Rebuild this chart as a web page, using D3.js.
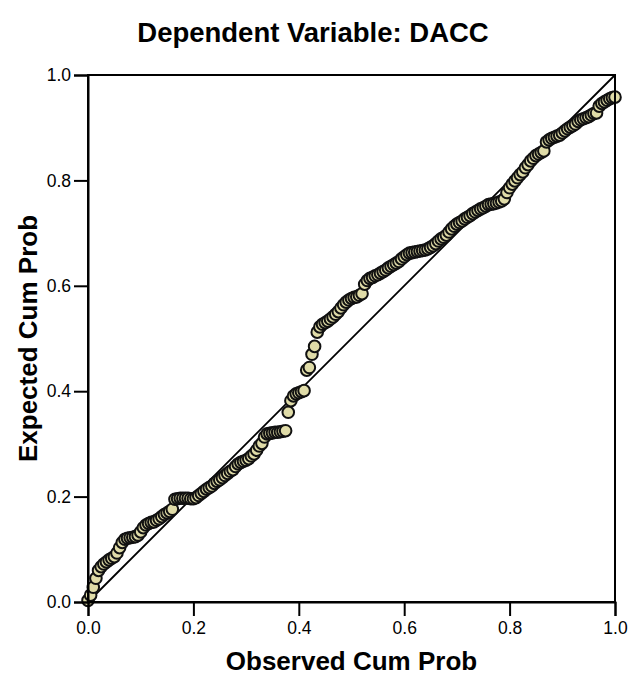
<!DOCTYPE html>
<html>
<head>
<meta charset="utf-8">
<script src="https://cdn.jsdelivr.net/npm/d3@7"></script>
<style>
  body { margin: 0; background: #fff; }
  text { font-family: "Liberation Sans", Arial, sans-serif; }
</style>
</head>
<body>
<div id="chart"></div>
<script>
// P-P plot: observed vs expected cumulative probability
const observed = [
  0.000, 0.005, 0.010, 0.015, 0.020, 0.025, 0.030, 0.035, 0.040, 0.045,
  0.050, 0.055, 0.060, 0.065, 0.070, 0.075, 0.080, 0.085, 0.090, 0.095,
  0.100, 0.105, 0.110, 0.115, 0.120, 0.125, 0.130, 0.135, 0.140, 0.145,
  0.150, 0.155, 0.160, 0.165, 0.170, 0.175, 0.180, 0.185, 0.190, 0.195,
  0.200, 0.205, 0.210, 0.215, 0.220, 0.225, 0.230, 0.235, 0.240, 0.245,
  0.250, 0.255, 0.260, 0.265, 0.270, 0.275, 0.280, 0.285, 0.290, 0.295,
  0.300, 0.305, 0.310, 0.315, 0.320, 0.325, 0.330, 0.335, 0.340, 0.345,
  0.350, 0.355, 0.360, 0.365, 0.370, 0.375, 0.380, 0.385, 0.390, 0.395,
  0.400, 0.405, 0.410, 0.415, 0.420, 0.425, 0.430, 0.435, 0.440, 0.445,
  0.450, 0.455, 0.460, 0.465, 0.470, 0.475, 0.480, 0.485, 0.490, 0.495,
  0.500, 0.505, 0.510, 0.515, 0.520, 0.525, 0.530, 0.535, 0.540, 0.545,
  0.550, 0.555, 0.560, 0.565, 0.570, 0.575, 0.580, 0.585, 0.590, 0.595,
  0.600, 0.605, 0.610, 0.615, 0.620, 0.625, 0.630, 0.635, 0.640, 0.645,
  0.650, 0.655, 0.660, 0.665, 0.670, 0.675, 0.680, 0.685, 0.690, 0.695,
  0.700, 0.705, 0.710, 0.715, 0.720, 0.725, 0.730, 0.735, 0.740, 0.745,
  0.750, 0.755, 0.760, 0.765, 0.770, 0.775, 0.780, 0.785, 0.790, 0.795,
  0.800, 0.805, 0.810, 0.815, 0.820, 0.825, 0.830, 0.835, 0.840, 0.845,
  0.850, 0.855, 0.860, 0.865, 0.870, 0.875, 0.880, 0.885, 0.890, 0.895,
  0.900, 0.905, 0.910, 0.915, 0.920, 0.925, 0.930, 0.935, 0.940, 0.945,
  0.950, 0.955, 0.960, 0.965, 0.970, 0.975, 0.980, 0.985, 0.990, 0.995,
  1.000
];
const expected = [
  0.003, 0.013, 0.028, 0.045, 0.060, 0.067, 0.072, 0.076, 0.080, 0.083,
  0.086, 0.093, 0.103, 0.113, 0.119, 0.121, 0.122, 0.123, 0.124, 0.127,
  0.133, 0.141, 0.146, 0.149, 0.151, 0.152, 0.155, 0.158, 0.162, 0.166,
  0.169, 0.172, 0.176, 0.195, 0.196, 0.197, 0.197, 0.197, 0.197, 0.196,
  0.196, 0.198, 0.202, 0.206, 0.210, 0.214, 0.217, 0.220, 0.225, 0.229,
  0.232, 0.236, 0.240, 0.244, 0.248, 0.251, 0.257, 0.262, 0.265, 0.267,
  0.269, 0.272, 0.277, 0.281, 0.288, 0.296, 0.301, 0.313, 0.319, 0.320,
  0.321, 0.322, 0.322, 0.323, 0.324, 0.325, 0.360, 0.382, 0.391, 0.395,
  0.397, 0.399, 0.401, 0.440, 0.445, 0.470, 0.485, 0.512, 0.522, 0.527,
  0.530, 0.533, 0.537, 0.541, 0.546, 0.551, 0.558, 0.564, 0.569, 0.573,
  0.576, 0.578, 0.579, 0.582, 0.585, 0.603, 0.610, 0.614, 0.616, 0.619,
  0.621, 0.624, 0.627, 0.630, 0.634, 0.637, 0.640, 0.643, 0.646, 0.651,
  0.655, 0.659, 0.662, 0.663, 0.664, 0.665, 0.666, 0.667, 0.668, 0.670,
  0.673, 0.676, 0.680, 0.685, 0.689, 0.692, 0.696, 0.702, 0.708, 0.713,
  0.717, 0.720, 0.723, 0.727, 0.730, 0.733, 0.737, 0.740, 0.743, 0.746,
  0.748, 0.751, 0.754, 0.755, 0.756, 0.757, 0.759, 0.761, 0.765, 0.777,
  0.786, 0.793, 0.799, 0.805, 0.811, 0.816, 0.824, 0.830, 0.837, 0.842,
  0.847, 0.850, 0.853, 0.856, 0.873, 0.877, 0.880, 0.882, 0.884, 0.886,
  0.890, 0.894, 0.898, 0.901, 0.904, 0.907, 0.912, 0.915, 0.917, 0.919,
  0.921, 0.924, 0.927, 0.928, 0.941, 0.946, 0.949, 0.952, 0.955, 0.957,
  0.958
];
const tickValues = [0, 0.2, 0.4, 0.6, 0.8, 1.0];
const titleText = "Dependent Variable: DACC";
const xTitle = "Observed Cum Prob";
const yTitle = "Expected Cum Prob";

const dimensions = {
  width: 633,
  height: 675,
  margin: { top: 75, right: 18, bottom: 73, left: 88 },
};
dimensions.boundedWidth =
  dimensions.width - dimensions.margin.left - dimensions.margin.right;
dimensions.boundedHeight =
  dimensions.height - dimensions.margin.top - dimensions.margin.bottom;

const svg = d3
  .select("#chart")
  .append("svg")
  .attr("width", dimensions.width)
  .attr("height", dimensions.height);

const bounds = svg
  .append("g")
  .attr("transform", `translate(${dimensions.margin.left},${dimensions.margin.top})`);

const xScale = d3.scaleLinear().domain([0, 1]).range([0, dimensions.boundedWidth]);
const yScale = d3.scaleLinear().domain([0, 1]).range([dimensions.boundedHeight, 0]);

const points = observed.map((o, i) => ({ obs: o, exp: expected[i] }));

// reference diagonal
bounds
  .append("line")
  .attr("x1", xScale(0))
  .attr("y1", yScale(0))
  .attr("x2", xScale(1))
  .attr("y2", yScale(1))
  .attr("stroke", "#000")
  .attr("stroke-width", 1.8);

bounds
  .selectAll("circle")
  .data(points)
  .join("circle")
  .attr("cx", (d) => xScale(d.obs))
  .attr("cy", (d) => yScale(d.exp))
  .attr("r", 5.8)
  .attr("fill", "#e0dca8")
  .attr("stroke", "#111")
  .attr("stroke-width", 2);

// frame
bounds
  .append("rect")
  .attr("width", dimensions.boundedWidth)
  .attr("height", dimensions.boundedHeight)
  .attr("fill", "none")
  .attr("stroke", "#000")
  .attr("stroke-width", 2);

const xAxis = bounds
  .append("g")
  .attr("transform", `translate(0,${dimensions.boundedHeight})`)
  .call(
    d3.axisBottom(xScale).tickValues(tickValues).tickSize(14).tickPadding(6)
      .tickFormat(d3.format(".1f"))
  );
const yAxis = bounds
  .append("g")
  .call(
    d3.axisLeft(yScale).tickValues(tickValues).tickSize(14).tickPadding(3)
      .tickFormat(d3.format(".1f"))
  );

[xAxis, yAxis].forEach((ax) => {
  ax.select(".domain").attr("stroke-width", 2);
  ax.selectAll(".tick line").attr("stroke-width", 2);
  ax.selectAll(".tick text")
    .attr("font-size", 17.5)
    .attr("font-family", "Liberation Sans, Arial, sans-serif")
    .attr("fill", "#000");
});

svg
  .append("text")
  .attr("x", 313)
  .attr("y", 42)
  .attr("text-anchor", "middle")
  .attr("font-size", 27.5)
  .attr("font-weight", "bold")
  .text(titleText);

svg
  .append("text")
  .attr("x", dimensions.margin.left + dimensions.boundedWidth / 2)
  .attr("y", 670)
  .attr("text-anchor", "middle")
  .attr("font-size", 26)
  .attr("font-weight", "bold")
  .text(xTitle);

svg
  .append("text")
  .attr("transform", `translate(37,${dimensions.margin.top + dimensions.boundedHeight / 2}) rotate(-90)`)
  .attr("text-anchor", "middle")
  .attr("font-size", 26)
  .attr("font-weight", "bold")
  .text(yTitle);
</script>
</body>
</html>
